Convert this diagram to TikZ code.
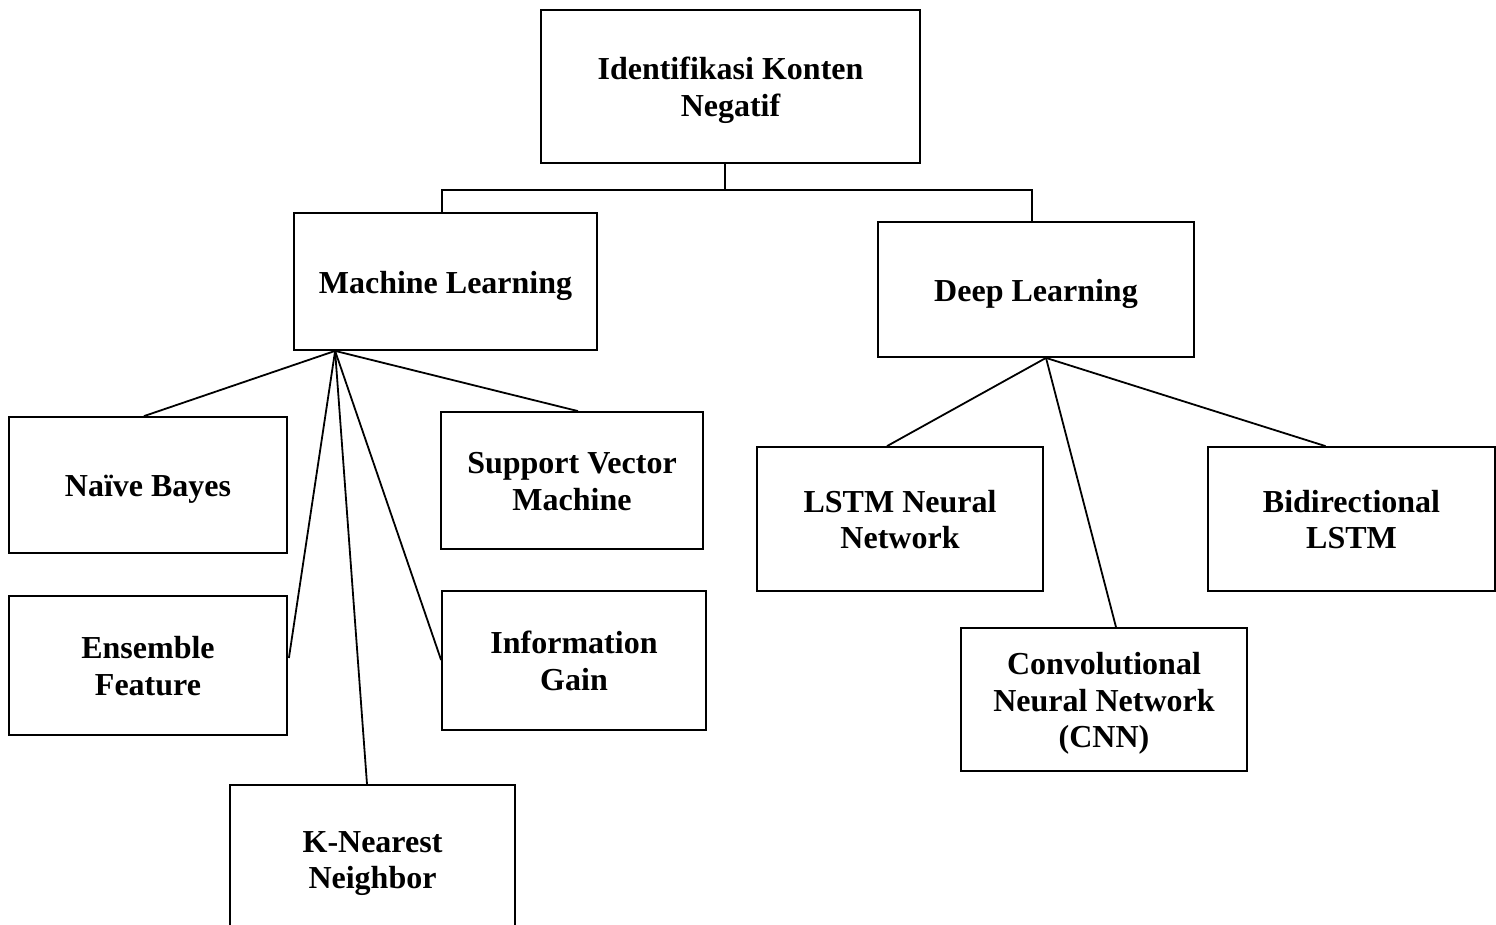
\documentclass[tikz,border=0pt]{standalone}
\usepackage{fontspec}
\setmainfont{Liberation Serif}
\usetikzlibrary{calc}
\newcommand\topstrut{\rule{0pt}{32pt}}
\newcommand\botstrut{\rule[-9pt]{0pt}{9pt}}
\begin{document}
\begin{tikzpicture}[x=1pt,y=-1pt,
  box/.style={draw, line width=1.8pt, align=center, inner sep=0pt,
    font=\bfseries\fontsize{32}{36.5}\selectfont},
  link/.style={line width=1.8pt}]
\clip (0,0) rectangle (1496,924);
\fill[white] (0,0) rectangle (1496,924);
% nodes
\node[box, minimum width=379pt, minimum height=153pt] (top) at (730.5,86.5) {\topstrut Identifikasi Konten\\Negatif\botstrut};
\node[box, minimum width=303pt, minimum height=137pt] (ml) at (445.5,281.5) {\topstrut Machine Learning\botstrut};
\node[box, minimum width=316pt, minimum height=135pt] (dl) at (1036,289.5) {\topstrut Deep Learning\botstrut};
\node[box, minimum width=278pt, minimum height=136pt] (nb) at (148,485) {\topstrut Naïve Bayes\botstrut};
\node[box, minimum width=278pt, minimum height=139pt] (ef) at (148,665.5) {\topstrut Ensemble\\Feature\botstrut};
\node[box, minimum width=285pt, minimum height=148pt] (knn) at (372.5,859) {\topstrut K-Nearest\\Neighbor\botstrut};
\node[box, minimum width=262pt, minimum height=137pt] (svm) at (572,480.5) {\topstrut Support Vector\\Machine\botstrut};
\node[box, minimum width=264pt, minimum height=139pt] (ig) at (574,660.5) {\topstrut Information\\Gain\botstrut};
\node[box, minimum width=286pt, minimum height=144pt] (lstm) at (900,519) {\topstrut LSTM Neural\\Network\botstrut};
\node[box, minimum width=286pt, minimum height=143pt] (cnn) at (1104,699.5) {\topstrut Convolutional\\Neural Network\\(CNN)\botstrut};
\node[box, minimum width=287pt, minimum height=144pt] (bi) at (1351.5,519) {\topstrut Bidirectional\\LSTM\botstrut};
% connectors top
\coordinate (tb) at ($(top.south west)+(184.5,0)$);
\coordinate (jn) at ($(tb)+(0,26)$);
\draw[link] (tb) -- (jn);
\draw[link] ($(ml.north west)+(149,0)$) |- (jn) -| ($(dl.north west)+(155,0)$);
% machine learning children
\coordinate (mla) at ($(ml.south west)+(42,0)$);
\draw[link] (mla) -- ($(nb.north)+(-4,0)$);
\draw[link] (mla) -- ($(ef.east)+(1,-7.5)$);
\draw[link] (mla) -- ($(knn.north)+(-5.5,0)$);
\draw[link] (mla) -- ($(ig.west)+(0,-0.5)$);
\draw[link] (mla) -- ($(svm.north)+(6,0)$);
% deep learning children
\coordinate (dla) at ($(dl.south)+(10,0)$);
\draw[link] (dla) -- ($(lstm.north)+(-13,0)$);
\draw[link] (dla) -- ($(cnn.north)+(12,0)$);
\draw[link] (dla) -- ($(bi.north)+(-26,0)$);
\end{tikzpicture}
\end{document}
